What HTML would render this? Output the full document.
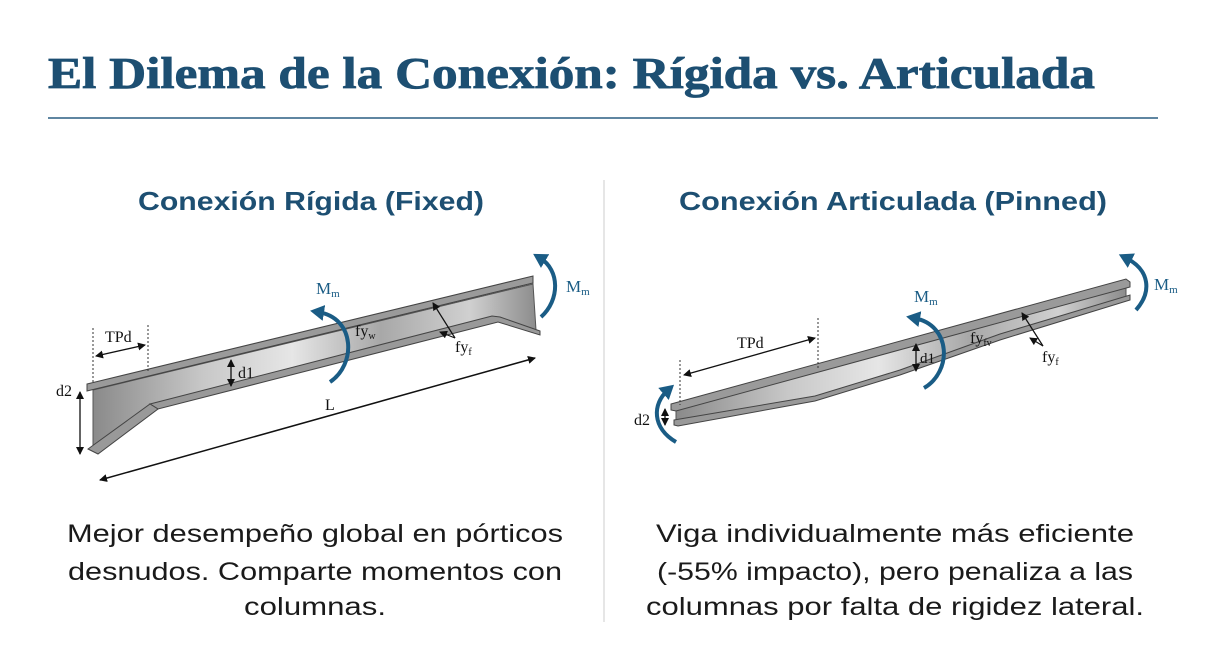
<!DOCTYPE html>
<html><head><meta charset="utf-8"><style>
html,body{margin:0;padding:0;background:#fff;}
svg{display:block}
</style></head><body>
<svg width="1212" height="654" viewBox="0 0 1212 654" xmlns="http://www.w3.org/2000/svg">
<defs>
<linearGradient id="web" x1="0" y1="0" x2="1" y2="0">
<stop offset="0" stop-color="#8a8a8a"/><stop offset="0.25" stop-color="#c8c8c8"/><stop offset="0.45" stop-color="#e6e6e6"/><stop offset="0.65" stop-color="#a8a8a8"/><stop offset="0.85" stop-color="#d0d0d0"/><stop offset="1" stop-color="#8c8c8c"/>
</linearGradient>
<marker id="ah" markerWidth="8" markerHeight="8" refX="7" refY="4" orient="auto" markerUnits="userSpaceOnUse"><path d="M0,0 L8,4 L0,8 z" fill="#111"/></marker>
<marker id="ahs" markerWidth="8" markerHeight="8" refX="1" refY="4" orient="auto" markerUnits="userSpaceOnUse"><path d="M8,0 L0,4 L8,8 z" fill="#111"/></marker>
<marker id="bh" markerWidth="16" markerHeight="16" refX="6" refY="8" orient="auto" markerUnits="userSpaceOnUse"><path d="M0,0 L14,8 L0,16 z" fill="#1a5c85"/></marker>
</defs>
<rect width="1212" height="654" fill="#fff"/>
<text x="48" y="88" font-family="Liberation Serif, serif" font-weight="bold" font-size="44" fill="#1d4f72" stroke="#1d4f72" stroke-width="0.8" textLength="1047" lengthAdjust="spacingAndGlyphs">El Dilema de la Conexión: Rígida vs. Articulada</text>
<line x1="48" y1="118" x2="1158" y2="118" stroke="#2a5f82" stroke-width="1.5"/>
<line x1="604" y1="180" x2="604" y2="622" stroke="#ddd" stroke-width="1.5"/>
<text x="311" y="210" text-anchor="middle" font-family="Liberation Sans, sans-serif" font-weight="bold" font-size="26" fill="#1d4f72" textLength="346" lengthAdjust="spacingAndGlyphs">Conexión Rígida (Fixed)</text>
<text x="893" y="210" text-anchor="middle" font-family="Liberation Sans, sans-serif" font-weight="bold" font-size="26" fill="#1d4f72" textLength="428" lengthAdjust="spacingAndGlyphs">Conexión Articulada (Pinned)</text>

<!-- LEFT BEAM -->
<polygon points="93,390 533,284 536,330 495,320 153,405 93,450" fill="url(#web)" stroke="#555" stroke-width="1"/>
<polygon points="87,384 533,276 533,283 87,391" fill="#9a9a9a" stroke="#444" stroke-width="1"/>
<polygon points="150,404 492,316 500,317 540,331 540,335 498,322 158,409" fill="#999" stroke="#444" stroke-width="1"/>
<polygon points="88,449 150,404 158,409 98,454" fill="#999" stroke="#444" stroke-width="1"/>
<line x1="93" y1="328" x2="93" y2="384" stroke="#333" stroke-dasharray="2,2"/>
<line x1="148" y1="325" x2="148" y2="372" stroke="#333" stroke-dasharray="2,2"/>
<line x1="96" y1="356" x2="145" y2="345" stroke="#111" stroke-width="1.3" marker-start="url(#ahs)" marker-end="url(#ah)"/>
<text x="105" y="342" font-family="Liberation Serif, serif" font-size="16" fill="#111">TPd</text>
<line x1="231" y1="360" x2="231" y2="386" stroke="#111" stroke-width="1.3" marker-start="url(#ahs)" marker-end="url(#ah)"/>
<text x="238" y="378" font-family="Liberation Serif, serif" font-size="16" fill="#111">d1</text>
<line x1="80" y1="392" x2="80" y2="454" stroke="#111" stroke-width="1.3" marker-start="url(#ahs)" marker-end="url(#ah)"/>
<text x="56" y="396" font-family="Liberation Serif, serif" font-size="16" fill="#111">d2</text>
<line x1="100" y1="480" x2="535" y2="358" stroke="#111" stroke-width="1.5" marker-start="url(#ahs)" marker-end="url(#ah)"/>
<text x="325" y="410" font-family="Liberation Serif, serif" font-size="16" fill="#111">L</text>
<text x="355" y="336" font-family="Liberation Serif, serif" font-size="16" fill="#111">fy<tspan font-size="10" dy="3">w</tspan></text>
<text x="455" y="352" font-family="Liberation Serif, serif" font-size="16" fill="#111">fy<tspan font-size="10" dy="3">f</tspan></text>
<line x1="455" y1="338" x2="433" y2="303" stroke="#111" stroke-width="1.2" marker-end="url(#ah)"/>
<line x1="455" y1="338" x2="440" y2="332" stroke="#111" stroke-width="1.2" marker-end="url(#ah)"/>
<path d="M330,382 C356,365 356,318 318,312" fill="none" stroke="#1a5c85" stroke-width="4" marker-end="url(#bh)"/>
<text x="316" y="294" font-family="Liberation Serif, serif" font-size="17" fill="#1a5c85">M<tspan font-size="11" dy="3">m</tspan></text>
<path d="M541,317 C560,300 560,270 540,258" fill="none" stroke="#1a5c85" stroke-width="4" marker-end="url(#bh)"/>
<text x="566" y="292" font-family="Liberation Serif, serif" font-size="17" fill="#1a5c85">M<tspan font-size="11" dy="3">m</tspan></text>

<!-- RIGHT BEAM -->
<polygon points="676,410 1126,286 1126,298 1000,336 900,372 815,398 676,421" fill="url(#web)" stroke="#555" stroke-width="1"/>
<polygon points="671,404 1126,279 1130,282 1130,287 676,411 671,410" fill="#9a9a9a" stroke="#444" stroke-width="1"/>
<polygon points="674,420 815,396 900,370 1000,334 1130,295 1130,300 1000,340 900,375 815,401 678,426 674,425" fill="#999" stroke="#444" stroke-width="1"/>
<line x1="680" y1="360" x2="680" y2="405" stroke="#333" stroke-dasharray="2,2"/>
<line x1="818" y1="318" x2="818" y2="368" stroke="#333" stroke-dasharray="2,2"/>
<line x1="684" y1="375" x2="815" y2="338" stroke="#111" stroke-width="1.3" marker-start="url(#ahs)" marker-end="url(#ah)"/>
<text x="737" y="348" font-family="Liberation Serif, serif" font-size="16" fill="#111">TPd</text>
<line x1="916" y1="344" x2="916" y2="371" stroke="#111" stroke-width="1.3" marker-start="url(#ahs)" marker-end="url(#ah)"/>
<text x="920" y="363" font-family="Liberation Serif, serif" font-size="15" fill="#111">d1</text>
<line x1="665" y1="409" x2="665" y2="425" stroke="#111" stroke-width="1.3" marker-start="url(#ahs)" marker-end="url(#ah)"/>
<text x="634" y="425" font-family="Liberation Serif, serif" font-size="16" fill="#111">d2</text>
<text x="970" y="343" font-family="Liberation Serif, serif" font-size="16" fill="#111">fy<tspan font-size="10" dy="3">fv</tspan></text>
<text x="1042" y="362" font-family="Liberation Serif, serif" font-size="16" fill="#111">fy<tspan font-size="10" dy="3">f</tspan></text>
<line x1="1043" y1="346" x2="1022" y2="313" stroke="#111" stroke-width="1.2" marker-end="url(#ah)"/>
<line x1="1043" y1="346" x2="1030" y2="338" stroke="#111" stroke-width="1.2" marker-end="url(#ah)"/>
<path d="M924,388 C952,372 952,325 914,318" fill="none" stroke="#1a5c85" stroke-width="4" marker-end="url(#bh)"/>
<text x="914" y="302" font-family="Liberation Serif, serif" font-size="17" fill="#1a5c85">M<tspan font-size="11" dy="3">m</tspan></text>
<path d="M1136,310 C1152,292 1150,270 1126,258" fill="none" stroke="#1a5c85" stroke-width="4" marker-end="url(#bh)"/>
<text x="1154" y="290" font-family="Liberation Serif, serif" font-size="17" fill="#1a5c85">M<tspan font-size="11" dy="3">m</tspan></text>
<path d="M676,442 C652,428 652,404 668,390" fill="none" stroke="#1a5c85" stroke-width="4" marker-end="url(#bh)"/>

<!-- body text -->
<g font-family="Liberation Sans, sans-serif" font-size="25" fill="#1a1a1a" text-anchor="middle">
<text x="315" y="542" textLength="496" lengthAdjust="spacingAndGlyphs">Mejor desempeño global en pórticos</text>
<text x="315" y="580" textLength="494" lengthAdjust="spacingAndGlyphs">desnudos. Comparte momentos con</text>
<text x="315" y="615" textLength="142" lengthAdjust="spacingAndGlyphs">columnas.</text>
<text x="895" y="542" textLength="478" lengthAdjust="spacingAndGlyphs">Viga individualmente más eficiente</text>
<text x="895" y="580" textLength="476" lengthAdjust="spacingAndGlyphs">(-55% impacto), pero penaliza a las</text>
<text x="895" y="615" textLength="498" lengthAdjust="spacingAndGlyphs">columnas por falta de rigidez lateral.</text>
</g>
</svg>
</body></html>
